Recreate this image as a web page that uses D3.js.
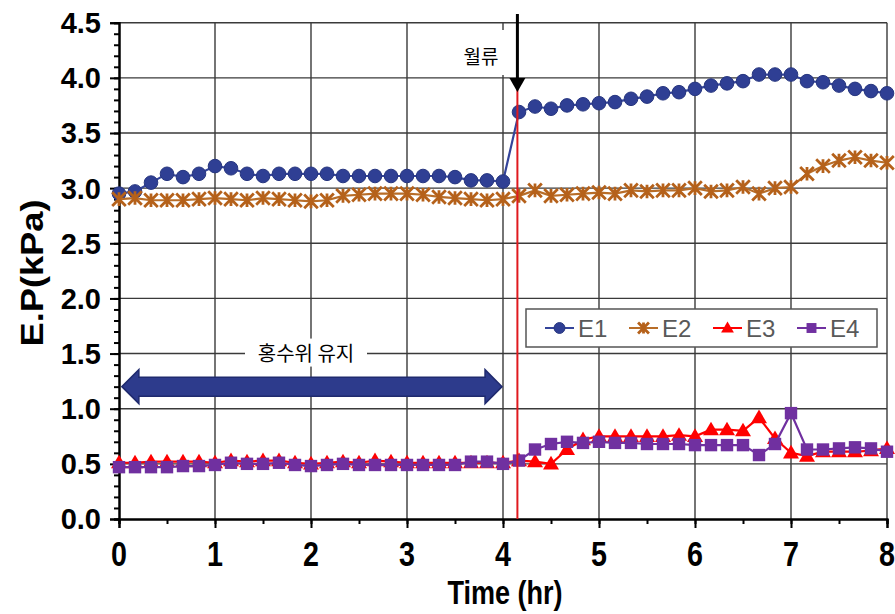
<!DOCTYPE html>
<html>
<head>
<meta charset="utf-8">
<script src="https://cdn.jsdelivr.net/npm/d3@7"></script>
<style>
  body { margin: 0; background: #fff; }
  svg { display: block; }
</style>
</head>
<body>
<div id="chart"></div>
<script>
// time in minutes (every 10 min)
var minutes = [0, 10, 20, 30, 40, 50, 60, 70, 80, 90, 100, 110, 120, 130, 140, 150, 160,
    170, 180, 190, 200, 210, 220, 230, 240, 250, 260, 270, 280, 290, 300, 310, 320, 330,
    340, 350, 360, 370, 380, 390, 400, 410, 420, 430, 440, 450, 460, 470, 480];

var e1 = [2.95, 2.97, 3.05, 3.13, 3.10, 3.13, 3.20, 3.18, 3.13, 3.11, 3.13, 3.13, 3.13,
    3.13, 3.11, 3.11, 3.11, 3.11, 3.11, 3.11, 3.11, 3.10, 3.07, 3.07, 3.06,
    3.69, 3.74, 3.72, 3.75, 3.76, 3.77, 3.78, 3.81, 3.83, 3.86, 3.87, 3.90, 3.93, 3.95,
    3.97, 4.03, 4.03, 4.03, 3.97, 3.96, 3.93, 3.90, 3.88, 3.86];
var e2 = [2.90, 2.91, 2.89, 2.89, 2.89, 2.90, 2.91, 2.90, 2.89, 2.91, 2.90, 2.89, 2.88,
    2.89, 2.93, 2.94, 2.95, 2.95, 2.95, 2.94, 2.92, 2.91, 2.90, 2.89, 2.90,
    2.93, 2.98, 2.93, 2.94, 2.95, 2.96, 2.95, 2.98, 2.97, 2.98, 2.98, 3.00, 2.97, 2.98,
    3.01, 2.95, 3.00, 3.01, 3.13, 3.20, 3.25, 3.28, 3.25, 3.23];
var e3 = [0.51, 0.51, 0.52, 0.52, 0.52, 0.52, 0.51, 0.53, 0.52, 0.53, 0.53, 0.51, 0.50,
    0.51, 0.52, 0.51, 0.53, 0.52, 0.51, 0.51, 0.51, 0.51, 0.51, 0.51, 0.51,
    0.53, 0.52, 0.50, 0.63, 0.72, 0.75, 0.75, 0.75, 0.75, 0.75, 0.76, 0.75, 0.81, 0.81,
    0.80, 0.92, 0.73, 0.60, 0.57, 0.61, 0.61, 0.61, 0.62, 0.64];
var e4 = [0.47, 0.47, 0.47, 0.47, 0.48, 0.48, 0.49, 0.51, 0.50, 0.50, 0.51, 0.49, 0.48,
    0.49, 0.50, 0.49, 0.49, 0.49, 0.49, 0.49, 0.49, 0.49, 0.52, 0.52, 0.50,
    0.53, 0.63, 0.68, 0.70, 0.69, 0.70, 0.69, 0.69, 0.68, 0.68, 0.68, 0.67, 0.67, 0.67,
    0.67, 0.58, 0.68, 0.96, 0.63, 0.63, 0.64, 0.65, 0.64, 0.61];

var seriesNames = ["E1", "E2", "E3", "E4"];
var xTicks = [0, 1, 2, 3, 4, 5, 6, 7, 8];
var yTicks = [0.0, 0.5, 1.0, 1.5, 2.0, 2.5, 3.0, 3.5, 4.0, 4.5];

var overflowTime = 4.15;        // 월류 (hr)
var holdPeriod = [0.03, 3.99];  // 홍수위 유지 (hr)
var holdLevel = 1.2;            // arrow level (kPa)

var W = 895, H = 614;
var x = d3.scaleLinear().domain([0, 8]).range([119, 887]);
var y = d3.scaleLinear().domain([0, 4.5]).range([519, 22.7]);

var svg = d3.select("#chart").append("svg").attr("width", W).attr("height", H);

// grid
svg.append("g").selectAll("line").data(yTicks.slice(1)).enter().append("line")
    .attr("x1", x(0)).attr("x2", x(8))
    .attr("y1", function(d){ return y(d); }).attr("y2", function(d){ return y(d); })
    .attr("stroke", "#3a3a3a").attr("stroke-width", 1.4);
svg.append("g").selectAll("line").data(xTicks.slice(1)).enter().append("line")
    .attr("y1", y(0)).attr("y2", y(4.5))
    .attr("x1", function(d){ return x(d); }).attr("x2", function(d){ return x(d); })
    .attr("stroke", "#3a3a3a").attr("stroke-width", 1.4);

// axes
var yAxisMinor = d3.axisLeft(y).ticks(45).tickSize(5).tickFormat("");
var yAxisMajor = d3.axisLeft(y).tickValues(yTicks).tickSize(9).tickFormat("");
var xAxisMinor = d3.axisBottom(x).tickValues(d3.range(0, 8.01, 0.5)).tickSize(5).tickFormat("");
var xAxisMajor = d3.axisBottom(x).tickValues(xTicks).tickSize(9).tickFormat("");

[yAxisMinor, yAxisMajor].forEach(function(a){
    svg.append("g").attr("transform", "translate(" + x(0) + ",0)").call(a);
});
[xAxisMinor, xAxisMajor].forEach(function(a){
    svg.append("g").attr("transform", "translate(0," + y(0) + ")").call(a);
});
svg.selectAll(".domain").attr("stroke", "#000").attr("stroke-width", 2);
svg.selectAll(".tick line").attr("stroke", "#000").attr("stroke-width", 2);

// tick labels
svg.append("g").selectAll("text").data(yTicks).enter().append("text")
    .attr("x", 101).attr("y", function(d){ return y(d); })
    .attr("dy", "0.36em")
    .attr("text-anchor", "end")
    .attr("font-family", "Liberation Sans, Arial, sans-serif")
    .attr("font-weight", "bold").attr("font-size", 29)
    .text(function(d){ return d.toFixed(1); });

svg.append("g").selectAll("text").data(xTicks).enter().append("text")
    .attr("transform", function(d){ return "translate(" + x(d) + ",566) scale(0.82,1)"; })
    .attr("text-anchor", "middle")
    .attr("font-family", "Liberation Sans, Arial, sans-serif")
    .attr("font-weight", "bold").attr("font-size", 35)
    .text(function(d){ return d; });

svg.append("text")
    .attr("transform", "translate(505,604) scale(0.82,1)")
    .attr("text-anchor", "middle")
    .attr("font-family", "Liberation Sans, Arial, sans-serif")
    .attr("font-weight", "bold").attr("font-size", 33)
    .text("Time (hr)");

svg.append("text")
    .attr("transform", "translate(43,273) rotate(-90) scale(1.17,1)")
    .attr("text-anchor", "middle")
    .attr("font-family", "Liberation Sans, Arial, sans-serif")
    .attr("font-weight", "bold").attr("font-size", 31)
    .text("E.P(kPa)");

// annotation: hold arrow
var ay = y(holdLevel), ax0 = x(holdPeriod[0]), ax1 = x(holdPeriod[1]);
svg.append("rect").attr("x", 245).attr("y", y(1.5) - 15).attr("width", 122).attr("height", 28)
    .attr("fill", "#fff");
svg.append("text").attr("x", 306).attr("y", y(1.5)).attr("dy", "0.35em")
    .attr("text-anchor", "middle")
    .attr("font-family", "Noto Sans CJK KR, sans-serif").attr("font-size", 20)
    .text("홍수위 유지");
svg.append("path")
    .attr("d", "M" + ax0 + "," + ay +
        " L" + (ax0 + 17) + "," + (ay - 17) + " L" + (ax0 + 17) + "," + (ay - 9.5) +
        " L" + (ax1 - 17) + "," + (ay - 9.5) + " L" + (ax1 - 17) + "," + (ay - 17) +
        " L" + ax1 + "," + ay +
        " L" + (ax1 - 17) + "," + (ay + 17) + " L" + (ax1 - 17) + "," + (ay + 9.5) +
        " L" + (ax0 + 17) + "," + (ay + 9.5) + " L" + (ax0 + 17) + "," + (ay + 17) + " Z")
    .attr("fill", "#2d3b8c").attr("stroke", "#1f2a6e").attr("stroke-width", 1.5);

// annotation: overflow
svg.append("rect").attr("x", 452).attr("y", 30).attr("width", 55).attr("height", 45).attr("fill", "#fff");
svg.append("text").attr("x", 481).attr("y", 57).attr("dy", "0.35em")
    .attr("text-anchor", "middle")
    .attr("font-family", "Noto Sans CJK KR, sans-serif").attr("font-size", 19)
    .text("월류");

// series
var pts = function(vals){ return minutes.map(function(m, i){ return [m / 60, vals[i]]; }); };
var line = d3.line().x(function(d){ return x(d[0]); }).y(function(d){ return y(d[1]); });

var styles = {
    E1: { data: e1, color: "#34449a", fill: "#2f3f94", marker: "circle" },
    E2: { data: e2, color: "#b86d28", fill: "#b5611a", marker: "star" },
    E3: { data: e3, color: "#ff0000", fill: "#ff0000", marker: "triangle" },
    E4: { data: e4, color: "#7030a0", fill: "#7030a0", marker: "square" }
};

function drawMarker(g, type, cx, cy, s, st) {
    if (type === "circle") {
        g.append("circle").attr("cx", cx).attr("cy", cy).attr("r", 6.8 * s)
            .attr("fill", st.fill).attr("stroke", "#27367f").attr("stroke-width", 1);
    } else if (type === "star") {
        var r = 6.8 * s;
        g.append("path")
            .attr("d", "M" + (cx - r) + "," + (cy - r) + "L" + (cx + r) + "," + (cy + r) +
                "M" + (cx - r) + "," + (cy + r) + "L" + (cx + r) + "," + (cy - r) +
                "M" + cx + "," + (cy - r) + "L" + cx + "," + (cy + r))
            .attr("stroke", st.fill).attr("stroke-width", 2.8).attr("fill", "none");
    } else if (type === "triangle") {
        var t = 8 * s;
        g.append("path")
            .attr("d", "M" + cx + "," + (cy - t) + "L" + (cx + t) + "," + (cy + t * 0.7) +
                "L" + (cx - t) + "," + (cy + t * 0.7) + "Z")
            .attr("fill", st.fill);
    } else {
        var q = 6.2 * s;
        g.append("rect").attr("x", cx - q).attr("y", cy - q).attr("width", 2 * q).attr("height", 2 * q)
            .attr("fill", st.fill);
    }
}

seriesNames.forEach(function(name){
    var st = styles[name];
    var g = svg.append("g");
    g.append("path").datum(pts(st.data)).attr("d", line)
        .attr("fill", "none").attr("stroke", st.color).attr("stroke-width", 2.2);
    pts(st.data).forEach(function(p){
        drawMarker(g, st.marker, x(p[0]), y(p[1]), 1, st);
    });
});

// overflow line + arrow
svg.append("line").attr("x1", x(overflowTime)).attr("x2", x(overflowTime))
    .attr("y1", 88).attr("y2", y(0))
    .attr("stroke", "#e0191e").attr("stroke-width", 2);
svg.append("line").attr("x1", x(overflowTime)).attr("x2", x(overflowTime))
    .attr("y1", 14).attr("y2", 80)
    .attr("stroke", "#000").attr("stroke-width", 3);
svg.append("path")
    .attr("d", "M" + (x(overflowTime) - 8) + ",78 L" + (x(overflowTime) + 8) + ",78 L" + x(overflowTime) + ",92 Z")
    .attr("fill", "#000");

// legend
var lg = svg.append("g");
lg.append("rect").attr("x", 526).attr("y", 309).attr("width", 351).attr("height", 38)
    .attr("fill", "#fff").attr("stroke", "#555").attr("stroke-width", 1.5);
var legX = d3.scalePoint().domain(seriesNames).range([545, 797]);
seriesNames.forEach(function(name){
    var st = styles[name];
    var lx = legX(name);
    lg.append("line").attr("x1", lx).attr("x2", lx + 29).attr("y1", 328).attr("y2", 328)
        .attr("stroke", st.color).attr("stroke-width", 2);
    drawMarker(lg, st.marker, lx + 14.5, 328, 0.8, st);
    lg.append("text").attr("x", lx + 33).attr("y", 328).attr("dy", "0.36em")
        .attr("font-family", "Liberation Sans, Arial, sans-serif").attr("font-size", 24)
        .attr("fill", "#595959").text(name);
});
</script>
</body>
</html>
